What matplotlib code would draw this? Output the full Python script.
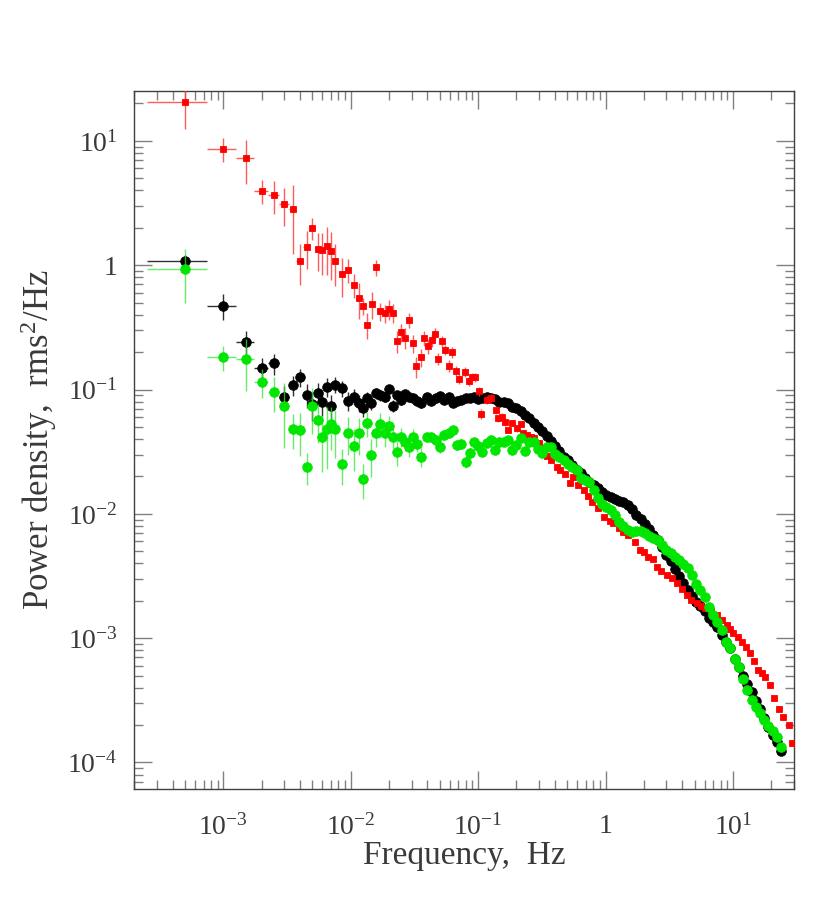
import numpy as np
import matplotlib
matplotlib.use('Agg')
import matplotlib.pyplot as plt
from matplotlib.ticker import FixedLocator, FixedFormatter, LogLocator, NullFormatter

plt.rcParams['font.family'] = ['Liberation Serif', 'DejaVu Serif']
plt.rcParams['mathtext.fontset'] = 'custom'
plt.rcParams['mathtext.rm'] = 'Liberation Serif'
plt.rcParams['mathtext.it'] = 'Liberation Serif:italic'
plt.rcParams['mathtext.default'] = 'regular'

# ---------------- data ----------------
# low-frequency bins shared by the black and green spectra (Hz)
LOW_FREQ = [5e-4, 1e-3, 1.5e-3, 2e-3, 2.5e-3, 3e-3, 3.5e-3, 4e-3, 4.5e-3, 5e-3,
            5.5e-3, 6e-3, 6.5e-3, 7e-3, 7.5e-3, 8.5e-3, 9.5e-3, 1.06e-2, 1.16e-2, 1.25e-2,
            1.35e-2, 1.45e-2, 1.57e-2, 1.71e-2, 1.86e-2, 2.01e-2, 2.16e-2, 2.30e-2, 2.47e-2, 2.66e-2,
            2.86e-2, 3.08e-2, 3.30e-2, 3.55e-2]
LOW_XERR = [2.5e-4] * 15

# higher-frequency bins shared by black and green (Hz)
DENSE_FREQ = [0.040, 0.043, 0.047, 0.050, 0.054, 0.059, 0.063, 0.068, 0.074, 0.080,
              0.086, 0.093, 0.100, 0.108, 0.117, 0.126, 0.136, 0.147, 0.159, 0.172,
              0.186, 0.200, 0.217, 0.234, 0.253, 0.273, 0.295, 0.319, 0.345, 0.372,
              0.402, 0.435, 0.470, 0.507, 0.548, 0.592, 0.640, 0.690, 0.746, 0.806,
              0.870, 0.940, 1.015, 1.10, 1.19, 1.28, 1.38, 1.50, 1.62, 1.75,
              1.89, 2.04, 2.20, 2.38, 2.57, 2.77, 3.00, 3.24, 3.50, 3.78,
              4.08, 4.41, 4.76, 5.14, 5.55, 6.00, 6.48, 7.00, 7.56, 8.16,
              8.82, 9.52, 10.3, 11.1, 12.0, 13.0, 14.0, 15.1, 16.3, 17.6,
              19.0, 20.6, 22.2, 24.0]

BLACK_LOW = [1.08, 0.473, 0.243, 0.148, 0.162, 0.0877, 0.109, 0.125, 0.0905, 0.0762,
             0.0944, 0.079, 0.1055, 0.0738, 0.109, 0.102, 0.081, 0.0877, 0.0785, 0.0707,
             0.0851, 0.0785, 0.0933, 0.0905, 0.0877, 0.1005, 0.0742, 0.090, 0.0825, 0.0922,
             0.0877, 0.0851, 0.0814, 0.0776]
BLACK_ERR_LOW = [0.12, 0.11, 0.05, 0.03, 0.03, 0.02, 0.02, 0.02, 0.02, 0.02,
                 0.018, 0.018, 0.018, 0.016, 0.016, 0.015, 0.014, 0.013, 0.012, 0.011,
                 0.011, 0.010, 0.010, 0.009, 0.009, 0.009, 0.008, 0.008, 0.007, 0.007,
                 0.007, 0.006, 0.006, 0.006]
BLACK_DENSE = [0.0872, 0.0802, 0.0848, 0.0888, 0.0825, 0.0864, 0.0780, 0.0810, 0.0825, 0.0856,
               0.0848, 0.0864, 0.0832, 0.0848, 0.0877, 0.0848, 0.0840, 0.0787, 0.0799, 0.0773,
               0.0725, 0.0707, 0.0666, 0.0625, 0.0587, 0.0539, 0.0500, 0.0460, 0.0423, 0.0382,
               0.0352, 0.0321, 0.0287, 0.0271, 0.0245, 0.0226, 0.0213, 0.0194, 0.0182, 0.0171,
               0.0162, 0.0151, 0.0143, 0.0137, 0.0132, 0.0128, 0.0125, 0.0118, 0.0110, 0.0097,
               0.0091, 0.00822, 0.00756, 0.00676, 0.00611, 0.00542, 0.00463, 0.00418, 0.00360, 0.00316,
               0.00278, 0.00244, 0.00219, 0.00194, 0.00183, 0.00166, 0.00145, 0.00134, 0.00122, 0.00106,
               0.000924, 0.000826, 0.000680, 0.000587, 0.000497, 0.000424, 0.000366, 0.000313, 0.000267, 0.000226,
               0.000193, 0.000165, 0.000145, 0.000123]

GREEN_LOW = [0.929, 0.182, 0.175, 0.116, 0.0962, 0.0738, 0.048, 0.0473, 0.024, 0.0738,
             0.0569, 0.0418, 0.048, 0.0526, 0.048, 0.0251, 0.0448, 0.0352, 0.0445, 0.0192,
             0.0539, 0.0298, 0.0445, 0.0526, 0.0448, 0.0513, 0.0418, 0.0313, 0.0418, 0.0381,
             0.0347, 0.0418, 0.0367, 0.0289]
GREEN_ERR_LOW = [0.43, 0.04, 0.078, 0.03, 0.03, 0.04, 0.015, 0.018, 0.007, 0.03,
                 0.02, 0.02, 0.025, 0.02, 0.02, 0.008, 0.015, 0.013, 0.015, 0.006,
                 0.012, 0.010, 0.010, 0.012, 0.010, 0.010, 0.008, 0.007, 0.007, 0.006,
                 0.006, 0.006, 0.005, 0.005]
GREEN_DENSE = [0.0418, 0.0418, 0.0393, 0.0345, 0.0431, 0.0448, 0.0469, 0.0358, 0.0368, 0.0262,
               0.0309, 0.0379, 0.0352, 0.0315, 0.0370, 0.0393, 0.0327, 0.0381, 0.0381, 0.0393,
               0.0327, 0.0358, 0.0404, 0.0321, 0.0379, 0.0375, 0.0333, 0.0307, 0.0345, 0.0342,
               0.0303, 0.0284, 0.0271, 0.0252, 0.0236, 0.0226, 0.0194, 0.0187, 0.0180, 0.0156,
               0.0133, 0.0120, 0.0114, 0.0107, 0.0097, 0.0086, 0.0080, 0.00742, 0.00719, 0.00722,
               0.00729, 0.00696, 0.00664, 0.00634, 0.00611, 0.00562, 0.00512, 0.00480, 0.00450, 0.00426,
               0.00395, 0.00367, 0.00325, 0.00273, 0.00244, 0.00213, 0.00177, 0.00154, 0.00135, 0.00116,
               0.000932, 0.000826, 0.000674, 0.000587, 0.000470, 0.000383, 0.000318, 0.000282, 0.000250, 0.000218,
               0.000198, 0.000179, 0.000159, 0.000132]
GREEN_ERR_DENSE = [0.004, 0.004, 0.004, 0.0035, 0.004, 0.004, 0.004, 0.003, 0.003, 0.003,
                   0.003, 0.003, 0.003, 0.0025, 0.0025, 0.0025, 0.002, 0.002, 0.002, 0.002, 0.002]

RED_FREQ = [5e-4, 1e-3, 1.5e-3, 2e-3, 2.5e-3, 3e-3, 3.5e-3, 4e-3, 4.5e-3, 5e-3,
            5.5e-3, 6e-3, 6.5e-3, 7e-3, 7.5e-3, 8.6e-3, 9.5e-3, 1.06e-2, 1.16e-2, 1.25e-2,
            1.35e-2, 1.46e-2, 1.57e-2, 1.71e-2, 1.86e-2, 2.01e-2, 2.16e-2, 2.30e-2, 2.47e-2, 2.66e-2,
            2.87e-2, 3.07e-2, 3.28e-2, 3.53e-2, 3.76e-2, 4.01e-2, 4.31e-2, 4.59e-2, 4.87e-2, 5.18e-2,
            5.52e-2, 5.89e-2, 6.24e-2, 6.67e-2, 7.08e-2, 7.89e-2, 8.44e-2, 8.93e-2, 9.42e-2, 0.101,
            0.105, 0.117, 0.126, 0.137, 0.144, 0.153, 0.162, 0.173, 0.184, 0.201,
            0.216, 0.227, 0.242, 0.258, 0.275, 0.301, 0.323, 0.347, 0.373, 0.414,
            0.443, 0.481, 0.522, 0.559, 0.608, 0.678, 0.733, 0.784, 0.873, 0.973,
            1.085, 1.155, 1.265, 1.384, 1.50, 1.70, 1.87, 2.00, 2.17, 2.34,
            2.52, 2.75, 3.02, 3.30, 3.62, 3.95, 4.34, 4.73, 5.20, 5.57,
            6.04, 6.67, 7.46, 8.14, 8.94, 9.49, 10.07, 10.9, 11.7, 12.7,
            13.6, 14.6, 15.8, 16.9, 17.9, 19.5, 21.1, 23.1, 24.9, 27.6,
            28.9]
RED_P = [20.5, 8.67, 7.30, 3.98, 3.70, 3.10, 2.84, 1.09, 1.40, 2.01,
         1.35, 1.33, 1.44, 1.31, 1.08, 0.851, 0.922, 0.695, 0.546, 0.471,
         0.333, 0.491, 0.96, 0.427, 0.411, 0.445, 0.415, 0.246, 0.289, 0.260,
         0.363, 0.236, 0.154, 0.182, 0.259, 0.224, 0.251, 0.281, 0.177, 0.245,
         0.208, 0.156, 0.200, 0.142, 0.122, 0.139, 0.117, 0.125, 0.126, 0.0975,
         0.064, 0.0825, 0.0856, 0.068, 0.0586, 0.0605, 0.0552, 0.0473, 0.0536, 0.0489,
         0.0524, 0.0445, 0.0431, 0.0416, 0.0407, 0.0372, 0.0327, 0.0292, 0.0272, 0.0240,
         0.0226, 0.0209, 0.0176, 0.0198, 0.0171, 0.0156, 0.0138, 0.0125, 0.0111, 0.0095,
         0.00877, 0.00837, 0.00763, 0.00719, 0.00676, 0.00597, 0.00513, 0.00493, 0.00453, 0.00434,
         0.00376, 0.00347, 0.00322, 0.00305, 0.00277, 0.00249, 0.00223, 0.00203, 0.00191, 0.00183,
         0.00174, 0.00166, 0.00154, 0.00141, 0.00128, 0.00119, 0.00110, 0.00102, 0.000937, 0.00085,
         0.000756, 0.000656, 0.000555, 0.000525, 0.000490, 0.000420, 0.000328, 0.000268, 0.000234, 0.000200,
         0.000143]
RED_ERR = [8.0, 1.9, 2.8, 0.9, 1.1, 1.05, 1.6, 0.4, 0.47, 0.4,
           0.45, 0.5, 0.6, 0.55, 0.4, 0.3, 0.2, 0.15, 0.18, 0.07,
           0.08, 0.12, 0.14, 0.07, 0.07, 0.08, 0.07, 0.05, 0.05, 0.05,
           0.05, 0.04, 0.03, 0.03, 0.035, 0.03, 0.03, 0.03, 0.02, 0.025,
           0.02, 0.017, 0.02, 0.014, 0.012, 0.012, 0.01, 0.01, 0.01, 0.008,
           0.006, 0.006, 0.006, 0.005, 0.004, 0.004, 0.004, 0.003, 0.003, 0.003]

XTICKS = [1e-3, 1e-2, 1e-1, 1, 10]
XTICK_LABELS = ['$10^{-3}$', '$10^{-2}$', '$10^{-1}$', '1', '$10^{1}$']
YTICKS = [1e-4, 1e-3, 1e-2, 1e-1, 1, 10]
YTICK_LABELS = ['$10^{-4}$', '$10^{-3}$', '$10^{-2}$', '$10^{-1}$', '1', '$10^{1}$']

X_LABEL = 'Frequency,  Hz'
Y_LABEL = 'Power density,  rms$^{2}$/Hz'

# ---------------- figure ----------------
fig = plt.figure(figsize=(8.22, 9.02), dpi=100)
ax = fig.add_axes([0.1634, 0.1249, 0.8026, 0.7742])
ax.set_xscale('log')
ax.set_yscale('log')

BLACK_C = '#000000'
RED_C = '#ff0000'
GREEN_C = '#00e600'

def draw(freq, vals, yerr, xerr, color, ecolor, marker, msize, z):
    n_e = len(yerr)
    n_x = len(xerr)
    ax.errorbar(freq[:n_e], vals[:n_e], yerr=yerr,
                xerr=list(xerr) + [0] * (n_e - n_x),
                fmt='none', ecolor=ecolor, elinewidth=1.0, capsize=0, zorder=z)
    ax.plot(freq, vals, linestyle='none', marker=marker, ms=msize, mfc=color,
            mec=color, mew=0.6, zorder=z + 0.5)

black_f = LOW_FREQ + DENSE_FREQ
black_p = BLACK_LOW + BLACK_DENSE
green_f = LOW_FREQ + DENSE_FREQ
green_p = GREEN_LOW + GREEN_DENSE

draw(black_f, black_p, BLACK_ERR_LOW, LOW_XERR, BLACK_C, '#303030', 'o', 6.9, 2)
draw(RED_FREQ, RED_P, RED_ERR, LOW_XERR, RED_C, (1.0, 0.25, 0.25, 0.85), 's', 4.6, 4)
draw(green_f, green_p, GREEN_ERR_LOW + GREEN_ERR_DENSE, LOW_XERR, GREEN_C,
     (0.2, 0.9, 0.2, 0.75), 'o', 6.9, 6)

ax.set_xlim(2.0e-4, 30.2)
ax.set_ylim(6.08e-5, 25.2)

ax.xaxis.set_major_locator(FixedLocator(XTICKS))
ax.xaxis.set_major_formatter(FixedFormatter(XTICK_LABELS))
ax.yaxis.set_major_locator(FixedLocator(YTICKS))
ax.yaxis.set_major_formatter(FixedFormatter(YTICK_LABELS))
ax.xaxis.set_minor_locator(LogLocator(base=10, subs=np.arange(2, 10), numticks=100))
ax.yaxis.set_minor_locator(LogLocator(base=10, subs=np.arange(2, 10), numticks=100))
ax.xaxis.set_minor_formatter(NullFormatter())
ax.yaxis.set_minor_formatter(NullFormatter())

TEXT_C = '#3a3a3a'
ax.tick_params(which='both', direction='in', top=True, right=True,
               color='#808080', width=1.0, labelcolor=TEXT_C, labelsize=20)
ax.tick_params(which='major', length=12.7)
ax.tick_params(which='minor', length=6.5)
ax.tick_params(axis='x', which='major', pad=18)
ax.tick_params(axis='y', which='major', pad=12)

for s in ax.spines.values():
    s.set_color('#404040')
    s.set_linewidth(1.0)

ax.set_xlabel(X_LABEL, fontsize=24, color=TEXT_C, labelpad=0)
ax.set_ylabel(Y_LABEL, fontsize=25, color=TEXT_C, labelpad=6)

fig.savefig('out.png', dpi=100)
